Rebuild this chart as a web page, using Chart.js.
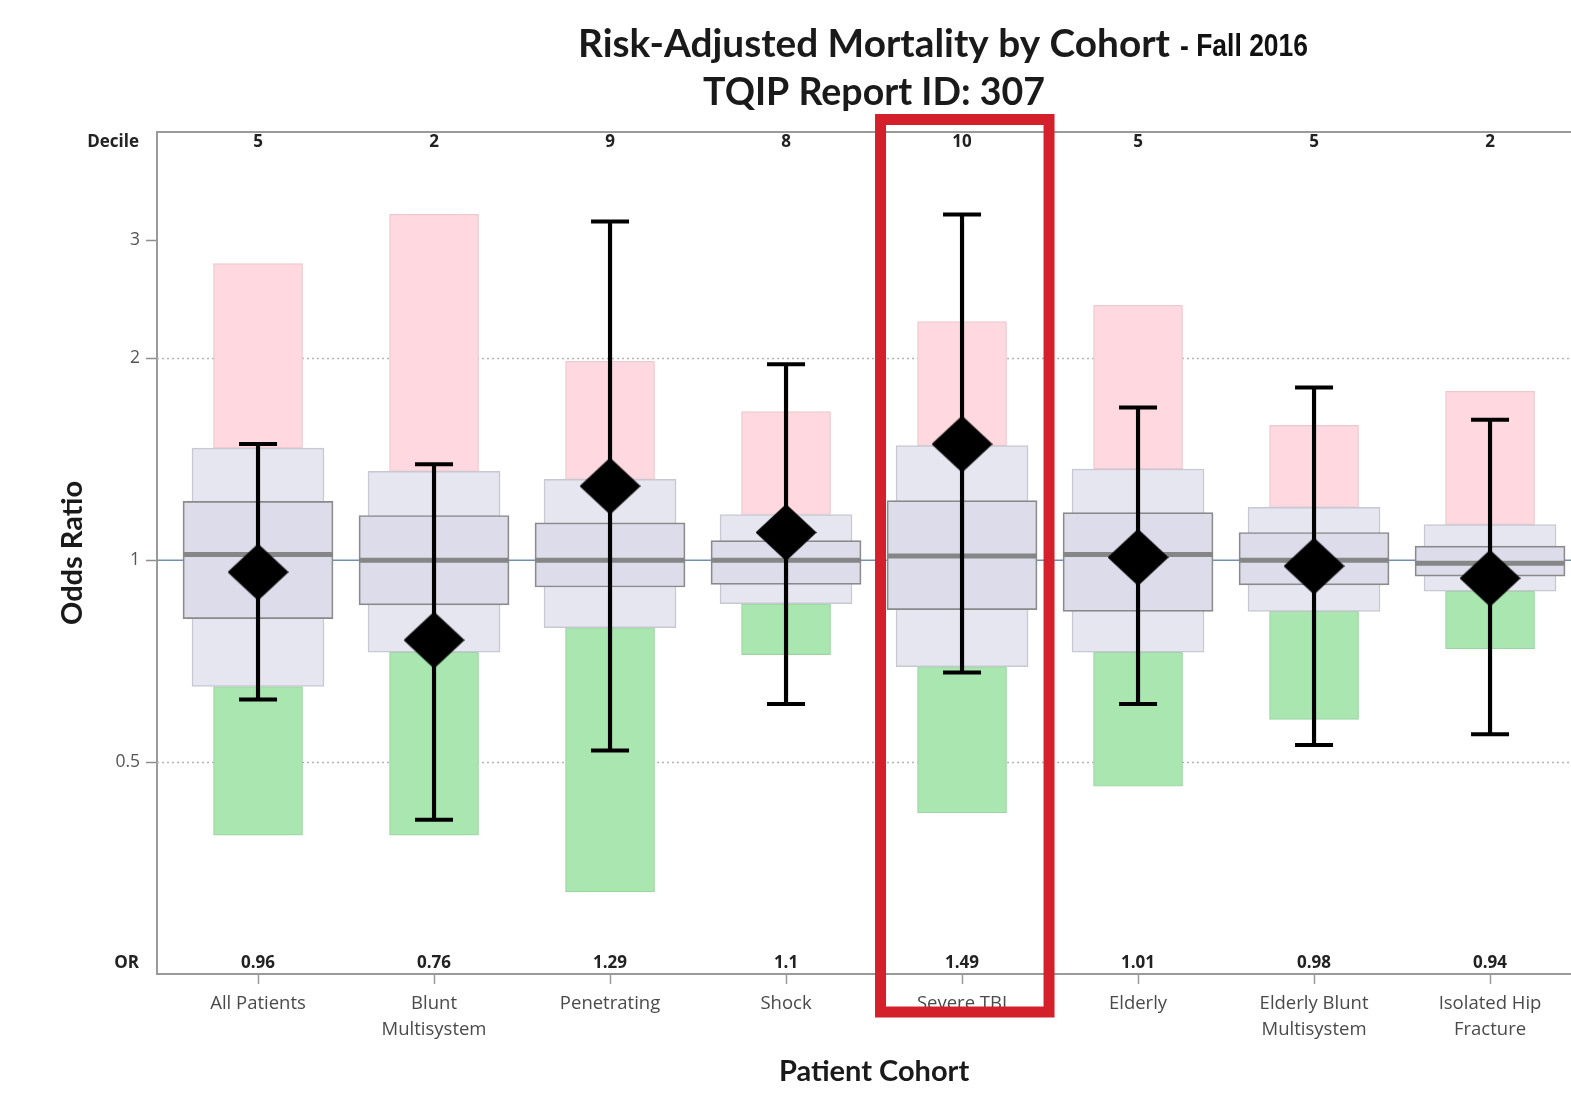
<!DOCTYPE html>
<html>
<head>
<meta charset="utf-8">
<title>Risk-Adjusted Mortality by Cohort</title>
<script src="https://cdn.jsdelivr.net/npm/chart.js@4.4.1/dist/chart.umd.min.js"></script>
<style>
  html, body { margin: 0; padding: 0; background: #ffffff; overflow: hidden; }
  #wrap { position: relative; width: 1571px; height: 1097px; }
</style>
</head>
<body>
<div id="wrap"><canvas id="chart"></canvas></div>
<script>
// Patient cohorts (multi-line labels as arrays)
const cohorts = [
  'All Patients',
  ['Blunt', 'Multisystem'],
  'Penetrating',
  'Shock',
  'Severe TBI',
  'Elderly',
  ['Elderly Blunt', 'Multisystem'],
  ['Isolated Hip', 'Fracture']
];
const deciles   = [5, 2, 9, 8, 10, 5, 5, 2];
const oddsRatio = [0.96, 0.76, 1.29, 1.1, 1.49, 1.01, 0.98, 0.94];

// 95% confidence interval of the hospital odds ratio
const ciLow  = [0.62, 0.41, 0.52, 0.61, 0.68, 0.61, 0.53, 0.55];
const ciHigh = [1.49, 1.39, 3.20, 1.96, 3.28, 1.69, 1.81, 1.62];

// Distribution of all hospitals: outer band, inner band, median
const outerLow  = [0.648, 0.729, 0.793, 0.861, 0.694, 0.729, 0.839, 0.899];
const outerHigh = [1.470, 1.357, 1.320, 1.170, 1.482, 1.368, 1.199, 1.130];
const innerLow  = [0.818, 0.858, 0.912, 0.920, 0.844, 0.839, 0.919, 0.947];
const innerHigh = [1.224, 1.166, 1.137, 1.070, 1.227, 1.178, 1.100, 1.050];
const medianOR  = [1.02, 1.00, 1.00, 1.00, 1.015, 1.02, 1.00, 0.99];

// High-outlier (red) and low-outlier (green) zones
const upperZoneTop    = [2.77, 3.28, 1.98, 1.666, 2.269, 2.40, 1.589, 1.786];
const lowerZoneBottom = [0.389, 0.389, 0.320, 0.723, 0.420, 0.460, 0.579, 0.738];

// Axis settings
const yTicks = [0.5, 1, 2, 3];
const guideLines = [0.5, 2];
const referenceOR = 1;
const yRange = [0.2414, 4.353];
const xRange = [0.426, 8.46];
const highlightedCohort = 4; // Severe TBI

const positions = cohorts.map((_, i) => i + 1);
const floating = (lo, hi) => positions.map((x, i) => ({ x, y: [lo[i], hi[i]] }));
const points = (vals) => positions.map((x, i) => ({ x, y: vals[i] }));

function makeDiamond(w, h, color) {
  const c = document.createElement('canvas');
  c.width = w; c.height = h;
  const g = c.getContext('2d');
  g.fillStyle = color;
  g.beginPath();
  g.moveTo(w / 2, 0);
  g.lineTo(w, h / 2);
  g.lineTo(w / 2, h);
  g.lineTo(0, h / 2);
  g.closePath();
  g.fill();
  return c;
}
const diamond = makeDiamond(61, 57, '#000000');

const TITLE_FONT = 'Lato';
const LABEL_FONT = "'Open Sans'";

const decorations = {
  id: 'decorations',
  beforeDatasetsDraw(chart) {
    const { ctx, chartArea: a, scales: { y } } = chart;
    ctx.save();
    // dotted guide lines
    ctx.strokeStyle = '#b4b4b4';
    ctx.lineWidth = 1.5;
    ctx.setLineDash([2, 3]);
    guideLines.forEach(v => {
      const py = Math.round(y.getPixelForValue(v)) + 0.5;
      ctx.beginPath(); ctx.moveTo(a.left, py); ctx.lineTo(a.right, py); ctx.stroke();
    });
    // reference line at OR = 1
    ctx.setLineDash([]);
    ctx.strokeStyle = '#7291b0';
    ctx.lineWidth = 1.5;
    const ry = y.getPixelForValue(referenceOR);
    ctx.beginPath(); ctx.moveTo(a.left, ry); ctx.lineTo(a.right, ry); ctx.stroke();
    // frame top edge
    ctx.strokeStyle = '#9a9a9a';
    ctx.lineWidth = 2;
    ctx.beginPath();
    ctx.moveTo(a.left, a.top); ctx.lineTo(a.right, a.top);
    ctx.stroke();
    ctx.restore();
  },
  afterDraw(chart) {
    const { ctx, chartArea: a, scales: { x } } = chart;
    ctx.save();
    // titles centred over the cohort columns
    const cx = x.getPixelForValue((positions[0] + positions[positions.length - 1]) / 2);
    ctx.fillStyle = '#1a1a1a';
    ctx.textAlign = 'center';
    ctx.textBaseline = 'alphabetic';
    ctx.font = `bold 39px ${TITLE_FONT}`;
    const line1 = 'Risk-Adjusted Mortality by Cohort';
    const w1 = Math.min(ctx.measureText(line1).width, 592);
    ctx.fillText(line1, cx, 57, 592);
    ctx.fillText('TQIP Report ID: 307', cx, 105, 342);
    ctx.textAlign = 'left';
    ctx.font = "bold 31px 'Liberation Sans Narrow', 'Liberation Sans', sans-serif";
    ctx.fillStyle = '#111111';
    ctx.fillText('- Fall 2016', cx + w1 / 2 + 10, 56, 128);

    ctx.textAlign = 'center';
    ctx.textBaseline = 'middle';
    ctx.fillStyle = '#1a1a1a';
    ctx.font = `bold 29px ${TITLE_FONT}`;
    ctx.fillText('Patient Cohort', cx, 1072);

    // decile row and OR row
    ctx.font = `bold 17px ${LABEL_FONT}`;
    ctx.fillStyle = '#222222';
    ctx.textAlign = 'right';
    ctx.fillText('Decile', a.left - 18, a.top + 10);
    ctx.fillText('OR', a.left - 18, a.bottom - 11);
    ctx.textAlign = 'center';
    positions.forEach((p, i) => {
      const px = x.getPixelForValue(p);
      ctx.fillText(String(deciles[i]), px, a.top + 10);
      ctx.fillText(String(oddsRatio[i]), px, a.bottom - 11);
    });

    // highlighted cohort frame
    const hx = x.getPixelForValue(positions[highlightedCohort]);
    ctx.strokeStyle = '#d3202a';
    ctx.lineWidth = 11;
    ctx.strokeRect(hx - 81.5, a.top - 12.5, 168.5, a.bottom - a.top + 50.5);
    ctx.restore();
  }
};

new Chart(document.getElementById('chart'), {
  type: 'bar',
  data: {
    datasets: [
      { type: 'scatter', data: points(oddsRatio), pointStyle: diamond, pointRadius: 30, order: 0 },
      { type: 'scatter', data: points(ciHigh), pointStyle: 'line', pointRadius: 19,
        pointBorderWidth: 4, pointBorderColor: '#000000', order: 1 },
      { type: 'scatter', data: points(ciLow), pointStyle: 'line', pointRadius: 19,
        pointBorderWidth: 4, pointBorderColor: '#000000', order: 1 },
      { type: 'bar', data: floating(ciLow, ciHigh), barThickness: 3.5, backgroundColor: '#000000',
        borderWidth: 0, grouped: false, order: 2 },
      { type: 'scatter', data: points(medianOR), pointStyle: 'line', pointRadius: 75,
        pointBorderWidth: 5, pointBorderColor: '#868686', order: 3 },
      { type: 'bar', data: floating(innerLow, innerHigh), barThickness: 150, backgroundColor: '#dcdcea',
        borderColor: '#8a8a8a', borderWidth: 1.7, borderSkipped: false, grouped: false, order: 4 },
      { type: 'bar', data: floating(outerLow, outerHigh), barThickness: 132, backgroundColor: '#e6e6f1',
        borderColor: '#c8c8d2', borderWidth: 1.5, borderSkipped: false, grouped: false, order: 5 },
      { type: 'bar', data: floating(outerHigh, upperZoneTop), barThickness: 89, backgroundColor: '#ffd9df',
        borderColor: '#ecc8ce', borderWidth: 1.2, borderSkipped: false, grouped: false, order: 6 },
      { type: 'bar', data: floating(lowerZoneBottom, outerLow), barThickness: 89, backgroundColor: '#a9e6b0',
        borderColor: '#9bd6a2', borderWidth: 1.2, borderSkipped: false, grouped: false, order: 6 }
    ]
  },
  options: {
    responsive: true,
    maintainAspectRatio: false,
    devicePixelRatio: 1,
    animation: false,
    events: [],
    layout: { autoPadding: false, padding: { left: 0, top: 132, right: 0, bottom: 0 } },
    plugins: { legend: { display: false }, tooltip: { enabled: false }, title: { display: false } },
    scales: {
      x: {
        type: 'linear',
        min: xRange[0],
        max: xRange[1],
        offset: false,
        afterBuildTicks: s => { s.ticks = positions.map(v => ({ value: v })); },
        afterFit: s => { s.height = 123; },
        ticks: {
          callback: v => cohorts[Math.round(v) - 1],
          font: { family: LABEL_FONT, size: 18.5, lineHeight: 1.38 },
          color: '#4a4a4a',
          padding: 7,
          maxRotation: 0,
          autoSkip: false
        },
        grid: { drawOnChartArea: false, drawTicks: true, tickLength: 10, tickColor: '#9a9a9a', tickWidth: 1.5, offset: false },
        border: { display: true, color: '#9a9a9a', width: 2 },
        title: { display: false }
      },
      y: {
        type: 'logarithmic',
        min: yRange[0],
        max: yRange[1],
        afterBuildTicks: s => { s.ticks = yTicks.map(v => ({ value: v })); },
        afterFit: s => { s.width = 157; },
        ticks: {
          callback: v => String(v),
          font: { family: LABEL_FONT, size: 17.5 },
          color: '#555555',
          padding: 6
        },
        grid: { drawOnChartArea: false, drawTicks: true, tickLength: 11, tickColor: '#8f8f8f', tickWidth: 1.5 },
        border: { display: true, color: '#9a9a9a', width: 2 },
        title: {
          display: true,
          text: 'Odds Ratio',
          font: { family: TITLE_FONT, size: 29, weight: 'bold', lineHeight: 1.2 },
          color: '#1a1a1a',
          padding: { top: 55, bottom: 0 }
        }
      }
    }
  },
  plugins: [decorations]
});
</script>
</body>
</html>
